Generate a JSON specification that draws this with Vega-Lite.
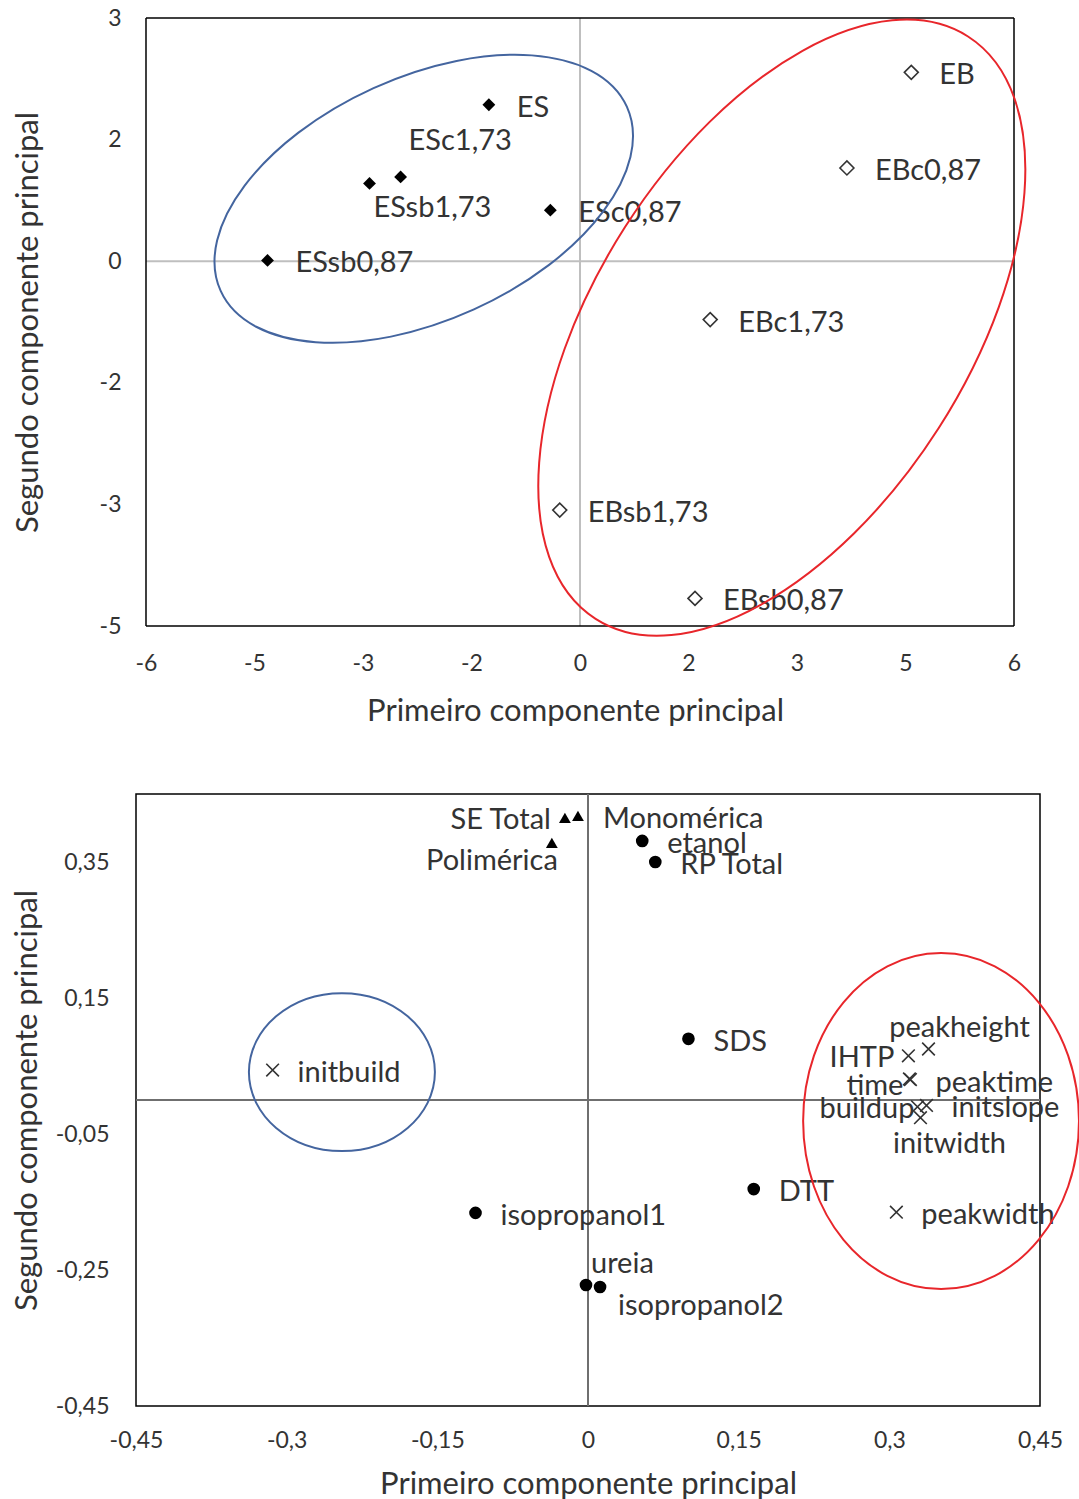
{
  "$schema": "https://vega.github.io/schema/vega-lite/v6.json",
  "padding": {"left": 10, "top": 7, "right": 5, "bottom": 5},
  "spacing": 66,
  "config": {
    "font": "Lato",
    "view": {"stroke": "#000000", "strokeWidth": 1.5},
    "axis": {"grid": false, "ticks": false, "domain": false, "labelFont": "Lato", "labelFontSize": 23, "labelColor": "#333333", "labelFlush": false, "labelOverlap": false, "titleFont": "Lato", "titleFontSize": 31, "titleFontWeight": "normal", "titleColor": "#333333"}
  },
  "datasets": {
    "scores": [
      {"name": "ES", "group": "ES", "pc1": -1.26, "pc2": 1.93},
      {"name": "ESc1,73", "group": "ES", "pc1": -2.48, "pc2": 1.04},
      {"name": "ESsb1,73", "group": "ES", "pc1": -2.91, "pc2": 0.96},
      {"name": "ESc0,87", "group": "ES", "pc1": -0.41, "pc2": 0.63},
      {"name": "ESsb0,87", "group": "ES", "pc1": -4.32, "pc2": 0.01},
      {"name": "EB", "group": "EB", "pc1": 4.58, "pc2": 2.33},
      {"name": "EBc0,87", "group": "EB", "pc1": 3.69, "pc2": 1.15},
      {"name": "EBc1,73", "group": "EB", "pc1": 1.8, "pc2": -0.72},
      {"name": "EBsb1,73", "group": "EB", "pc1": -0.28, "pc2": -3.07},
      {"name": "EBsb0,87", "group": "EB", "pc1": 1.59, "pc2": -4.16}
    ],
    "scoreGroups": [
      {"name": "ES", "pc1": -2.16, "pc2": 0.77},
      {"name": "EB", "pc1": 2.79, "pc2": -0.82}
    ],
    "loadings": [
      {"name": "SE Total", "kind": "tri", "pc1": -0.023, "pc2": 0.415},
      {"name": "Monomérica", "kind": "tri", "pc1": -0.01, "pc2": 0.418},
      {"name": "Polimérica", "kind": "tri", "pc1": -0.036, "pc2": 0.378},
      {"name": "etanol", "kind": "dot", "pc1": 0.054, "pc2": 0.381},
      {"name": "RP Total", "kind": "dot", "pc1": 0.067, "pc2": 0.35},
      {"name": "SDS", "kind": "dot", "pc1": 0.1, "pc2": 0.09},
      {"name": "DTT", "kind": "dot", "pc1": 0.165, "pc2": -0.131},
      {"name": "isopropanol1", "kind": "dot", "pc1": -0.112, "pc2": -0.166},
      {"name": "ureia", "kind": "dot", "pc1": -0.002, "pc2": -0.272},
      {"name": "isopropanol2", "kind": "dot", "pc1": 0.012, "pc2": -0.275},
      {"name": "initbuild", "kind": "x", "pc1": -0.314, "pc2": 0.044},
      {"name": "peakheight", "kind": "x", "pc1": 0.339, "pc2": 0.075},
      {"name": "IHTP", "kind": "x", "pc1": 0.319, "pc2": 0.065},
      {"name": "time", "kind": "x", "pc1": 0.32, "pc2": 0.031},
      {"name": "peaktime", "kind": "x", "pc1": 0.321, "pc2": 0.03},
      {"name": "buildup", "kind": "x", "pc1": 0.328, "pc2": -0.01},
      {"name": "initslope", "kind": "x", "pc1": 0.337, "pc2": -0.008},
      {"name": "initwidth", "kind": "x", "pc1": 0.331, "pc2": -0.026},
      {"name": "peakwidth", "kind": "x", "pc1": 0.307, "pc2": -0.165}
    ],
    "loadingGroups": [
      {"name": "initbuild", "pc1": -0.245, "pc2": 0.041},
      {"name": "cluster", "pc1": 0.3515, "pc2": -0.031}
    ]
  },
  "vconcat": [
    {
      "width": 878,
      "height": 608,
      "view": {"stroke": null},
      "layer": [
        {
          "data": {"name": "scores"},
          "mark": {"type": "point", "opacity": 0},
          "encoding": {
            "x": {"field": "pc1", "type": "quantitative", "title": "Primeiro componente principal", "scale": {"domain": [-6.1382, 6], "nice": false, "zero": false}, "axis": {"values": [-6, -4.5, -3, -1.5, 0, 1.5, 3, 4.5, 6], "labelExpr": "(datum.value < 0 ? '-' : '') + format(abs(datum.value), '.0f')", "labelPadding": 26, "titlePadding": 21}},
            "y": {"field": "pc2", "type": "quantitative", "title": "Segundo componente principal", "scale": {"domain": [-4.5, 3], "nice": false, "zero": false}, "axis": {"values": [-4.5, -3, -1.5, 0, 1.5, 3], "labelExpr": "(datum.value < 0 ? '-' : '') + format(abs(datum.value), '.0f')", "labelPadding": 15, "titlePadding": 55}}
          }
        },
        {
          "data": {"values": [{}]},
          "mark": {"type": "rule", "color": "#bfbfbf", "strokeWidth": 2},
          "encoding": {"x": {"datum": 0, "type": "quantitative"}}
        },
        {
          "data": {"values": [{}]},
          "mark": {"type": "rule", "color": "#bfbfbf", "strokeWidth": 2},
          "encoding": {"y": {"datum": 0, "type": "quantitative"}, "x": {"datum": -6, "type": "quantitative"}, "x2": {"datum": 6}}
        },
        {
          "data": {"values": [{}]},
          "mark": {"type": "rule", "color": "#000000", "strokeWidth": 1.5},
          "encoding": {"x": {"datum": -6, "type": "quantitative"}}
        },
        {
          "data": {"values": [{}]},
          "mark": {"type": "rule", "color": "#000000", "strokeWidth": 1.5},
          "encoding": {"x": {"datum": 6, "type": "quantitative"}}
        },
        {
          "data": {"values": [{}]},
          "mark": {"type": "rule", "color": "#000000", "strokeWidth": 1.5},
          "encoding": {"y": {"datum": 3, "type": "quantitative"}, "x": {"datum": -6, "type": "quantitative"}, "x2": {"datum": 6}}
        },
        {
          "data": {"values": [{}]},
          "mark": {"type": "rule", "color": "#000000", "strokeWidth": 1.5},
          "encoding": {"y": {"datum": -4.5, "type": "quantitative"}, "x": {"datum": -6, "type": "quantitative"}, "x2": {"datum": 6}}
        },
        {
          "data": {"name": "scores"},
          "transform": [{"filter": "datum.group == 'ES'"}],
          "mark": {"type": "point", "shape": "diamond", "filled": true, "color": "#000000", "size": 165, "opacity": 1},
          "encoding": {
            "x": {"field": "pc1", "type": "quantitative", "title": "Primeiro componente principal"},
            "y": {"field": "pc2", "type": "quantitative", "title": "Segundo componente principal"}
          }
        },
        {
          "data": {"name": "scores"},
          "transform": [{"filter": "datum.group == 'EB'"}],
          "mark": {"type": "point", "shape": "diamond", "filled": false, "fill": "#ffffff", "stroke": "#333333", "strokeWidth": 1.6, "size": 195, "opacity": 1},
          "encoding": {
            "x": {"field": "pc1", "type": "quantitative", "title": "Primeiro componente principal"},
            "y": {"field": "pc2", "type": "quantitative", "title": "Segundo componente principal"}
          }
        },
        {
          "data": {"name": "scores"},
          "transform": [{"filter": "datum.name != 'ESc1,73' && datum.name != 'ESsb1,73'"}],
          "mark": {"type": "text", "align": "left", "baseline": "middle", "dx": 28, "dy": 3, "fontSize": 29, "font": "Lato", "color": "#333333"},
          "encoding": {
            "x": {"field": "pc1", "type": "quantitative", "title": "Primeiro componente principal"},
            "y": {"field": "pc2", "type": "quantitative", "title": "Segundo componente principal"},
            "text": {"field": "name"}
          }
        },
        {
          "data": {"name": "scores"},
          "transform": [{"filter": "datum.name == 'ESc1,73'"}],
          "mark": {"type": "text", "align": "left", "baseline": "middle", "dx": 8, "dy": -36, "fontSize": 29, "font": "Lato", "color": "#333333"},
          "encoding": {
            "x": {"field": "pc1", "type": "quantitative", "title": "Primeiro componente principal"},
            "y": {"field": "pc2", "type": "quantitative", "title": "Segundo componente principal"},
            "text": {"field": "name"}
          }
        },
        {
          "data": {"name": "scores"},
          "transform": [{"filter": "datum.name == 'ESsb1,73'"}],
          "mark": {"type": "text", "align": "left", "baseline": "middle", "dx": 4, "dy": 25, "fontSize": 29, "font": "Lato", "color": "#333333"},
          "encoding": {
            "x": {"field": "pc1", "type": "quantitative", "title": "Primeiro componente principal"},
            "y": {"field": "pc2", "type": "quantitative", "title": "Segundo componente principal"},
            "text": {"field": "name"}
          }
        },
        {
          "data": {"name": "scoreGroups"},
          "transform": [{"filter": "datum.name == 'ES'"}],
          "mark": {"type": "point", "shape": "M 1 0 C 1 0.301 0.5523 0.545 0 0.545 C -0.5523 0.545 -1 0.301 -1 0 C -1 -0.301 -0.5523 -0.545 0 -0.545 C 0.5523 -0.545 1 -0.301 1 0 Z", "size": 198916, "angle": -24.4, "filled": false, "stroke": "#44659f", "strokeWidth": 2, "opacity": 1},
          "encoding": {
            "x": {"field": "pc1", "type": "quantitative", "title": "Primeiro componente principal"},
            "y": {"field": "pc2", "type": "quantitative", "title": "Segundo componente principal"}
          }
        },
        {
          "data": {"name": "scoreGroups"},
          "transform": [{"filter": "datum.name == 'EB'"}],
          "mark": {"type": "point", "shape": "M 1 0 C 1 0.2977 0.5523 0.539 0 0.539 C -0.5523 0.539 -1 0.2977 -1 0 C -1 -0.2977 -0.5523 -0.539 0 -0.539 C 0.5523 -0.539 1 -0.2977 1 0 Z", "size": 477757, "angle": -57.4, "filled": false, "stroke": "#e8262b", "strokeWidth": 2, "opacity": 1},
          "encoding": {
            "x": {"field": "pc1", "type": "quantitative", "title": "Primeiro componente principal"},
            "y": {"field": "pc2", "type": "quantitative", "title": "Segundo componente principal"}
          }
        }
      ]
    },
    {
      "width": 904,
      "height": 612,
      "layer": [
        {
          "data": {"name": "loadings"},
          "mark": {"type": "point", "opacity": 0},
          "encoding": {
            "x": {"field": "pc1", "type": "quantitative", "title": "Primeiro componente principal", "scale": {"domain": [-0.45, 0.45], "nice": false, "zero": false}, "axis": {"values": [-0.45, -0.3, -0.15, 0, 0.15, 0.3, 0.45], "labelExpr": "(datum.value < 0 ? '-' : '') + replace(format(abs(datum.value), '.2~f'), '.', ',')", "labelPadding": 23, "titlePadding": 17}},
            "y": {"field": "pc2", "type": "quantitative", "title": "Segundo componente principal", "scale": {"domain": [-0.45, 0.45], "nice": false, "zero": false}, "axis": {"values": [-0.45, -0.25, -0.05, 0.15, 0.35], "labelExpr": "(datum.value < 0 ? '-' : '') + replace(format(abs(datum.value), '.2~f'), '.', ',')", "labelPadding": 27, "titlePadding": 12}}
          }
        },
        {
          "data": {"values": [{}]},
          "mark": {"type": "rule", "color": "#6f6f6f", "strokeWidth": 2},
          "encoding": {"x": {"datum": 0, "type": "quantitative"}}
        },
        {
          "data": {"values": [{}]},
          "mark": {"type": "rule", "color": "#6f6f6f", "strokeWidth": 2},
          "encoding": {"y": {"datum": 0, "type": "quantitative"}}
        },
        {
          "data": {"name": "loadings"},
          "transform": [{"filter": "datum.kind == 'tri'"}],
          "mark": {"type": "point", "shape": "triangle-up", "filled": true, "color": "#000000", "size": 140, "opacity": 1},
          "encoding": {
            "x": {"field": "pc1", "type": "quantitative", "title": "Primeiro componente principal"},
            "y": {"field": "pc2", "type": "quantitative", "title": "Segundo componente principal"}
          }
        },
        {
          "data": {"name": "loadings"},
          "transform": [{"filter": "datum.kind == 'dot'"}],
          "mark": {"type": "point", "shape": "circle", "filled": true, "color": "#000000", "size": 160, "opacity": 1},
          "encoding": {
            "x": {"field": "pc1", "type": "quantitative", "title": "Primeiro componente principal"},
            "y": {"field": "pc2", "type": "quantitative", "title": "Segundo componente principal"}
          }
        },
        {
          "data": {"name": "loadings"},
          "transform": [{"filter": "datum.kind == 'x'"}],
          "mark": {"type": "point", "shape": "M -1 -1 L 1 1 M -1 1 L 1 -1", "filled": false, "stroke": "#333333", "strokeWidth": 1.6, "size": 160, "opacity": 1},
          "encoding": {
            "x": {"field": "pc1", "type": "quantitative", "title": "Primeiro componente principal"},
            "y": {"field": "pc2", "type": "quantitative", "title": "Segundo componente principal"}
          }
        },
        {
          "data": {"name": "loadings"},
          "transform": [{"filter": {"field": "name", "oneOf": ["Monomérica", "etanol", "RP Total", "SDS", "DTT", "isopropanol1", "initbuild", "peakwidth", "peaktime", "initslope"]}}],
          "mark": {"type": "text", "align": "left", "baseline": "middle", "dx": 25, "dy": 3, "fontSize": 29, "font": "Lato", "color": "#333333"},
          "encoding": {
            "x": {"field": "pc1", "type": "quantitative", "title": "Primeiro componente principal"},
            "y": {"field": "pc2", "type": "quantitative", "title": "Segundo componente principal"},
            "text": {"field": "name"}
          }
        },
        {
          "data": {"name": "loadings"},
          "transform": [{"filter": {"field": "name", "oneOf": ["SE Total", "IHTP"]}}],
          "mark": {"type": "text", "align": "right", "baseline": "middle", "dx": -14, "dy": 2, "fontSize": 29, "font": "Lato", "color": "#333333"},
          "encoding": {
            "x": {"field": "pc1", "type": "quantitative", "title": "Primeiro componente principal"},
            "y": {"field": "pc2", "type": "quantitative", "title": "Segundo componente principal"},
            "text": {"field": "name"}
          }
        },
        {
          "data": {"name": "loadings"},
          "transform": [{"filter": "datum.name == 'time'"}],
          "mark": {"type": "text", "align": "right", "baseline": "middle", "dx": -6, "dy": 7, "fontSize": 29, "font": "Lato", "color": "#333333"},
          "encoding": {
            "x": {"field": "pc1", "type": "quantitative", "title": "Primeiro componente principal"},
            "y": {"field": "pc2", "type": "quantitative", "title": "Segundo componente principal"},
            "text": {"field": "name"}
          }
        },
        {
          "data": {"name": "loadings"},
          "transform": [{"filter": "datum.name == 'buildup'"}],
          "mark": {"type": "text", "align": "right", "baseline": "middle", "dx": -3, "dy": 2, "fontSize": 29, "font": "Lato", "color": "#333333"},
          "encoding": {
            "x": {"field": "pc1", "type": "quantitative", "title": "Primeiro componente principal"},
            "y": {"field": "pc2", "type": "quantitative", "title": "Segundo componente principal"},
            "text": {"field": "name"}
          }
        },
        {
          "data": {"name": "loadings"},
          "transform": [{"filter": "datum.name == 'peakheight'"}],
          "mark": {"type": "text", "align": "center", "baseline": "middle", "dx": 31, "dy": -21, "fontSize": 29, "font": "Lato", "color": "#333333"},
          "encoding": {
            "x": {"field": "pc1", "type": "quantitative", "title": "Primeiro componente principal"},
            "y": {"field": "pc2", "type": "quantitative", "title": "Segundo componente principal"},
            "text": {"field": "name"}
          }
        },
        {
          "data": {"name": "loadings"},
          "transform": [{"filter": "datum.name == 'Polimérica'"}],
          "mark": {"type": "text", "align": "right", "baseline": "middle", "dx": 6, "dy": 18, "fontSize": 29, "font": "Lato", "color": "#333333"},
          "encoding": {
            "x": {"field": "pc1", "type": "quantitative", "title": "Primeiro componente principal"},
            "y": {"field": "pc2", "type": "quantitative", "title": "Segundo componente principal"},
            "text": {"field": "name"}
          }
        },
        {
          "data": {"name": "loadings"},
          "transform": [{"filter": "datum.name == 'initwidth'"}],
          "mark": {"type": "text", "align": "center", "baseline": "middle", "dx": 29, "dy": 26, "fontSize": 29, "font": "Lato", "color": "#333333"},
          "encoding": {
            "x": {"field": "pc1", "type": "quantitative", "title": "Primeiro componente principal"},
            "y": {"field": "pc2", "type": "quantitative", "title": "Segundo componente principal"},
            "text": {"field": "name"}
          }
        },
        {
          "data": {"name": "loadings"},
          "transform": [{"filter": "datum.name == 'isopropanol2'"}],
          "mark": {"type": "text", "align": "left", "baseline": "middle", "dx": 18, "dy": 19, "fontSize": 29, "font": "Lato", "color": "#333333"},
          "encoding": {
            "x": {"field": "pc1", "type": "quantitative", "title": "Primeiro componente principal"},
            "y": {"field": "pc2", "type": "quantitative", "title": "Segundo componente principal"},
            "text": {"field": "name"}
          }
        },
        {
          "data": {"name": "loadings"},
          "transform": [{"filter": "datum.name == 'ureia'"}],
          "mark": {"type": "text", "align": "left", "baseline": "middle", "dx": 5, "dy": -21, "fontSize": 29, "font": "Lato", "color": "#333333"},
          "encoding": {
            "x": {"field": "pc1", "type": "quantitative", "title": "Primeiro componente principal"},
            "y": {"field": "pc2", "type": "quantitative", "title": "Segundo componente principal"},
            "text": {"field": "name"}
          }
        },
        {
          "data": {"name": "loadingGroups"},
          "transform": [{"filter": "datum.name == 'initbuild'"}],
          "mark": {"type": "point", "shape": "M 1 0 C 1 0.469 0.5523 0.849 0 0.849 C -0.5523 0.849 -1 0.469 -1 0 C -1 -0.469 -0.5523 -0.849 0 -0.849 C 0.5523 -0.849 1 -0.469 1 0 Z", "size": 34596, "filled": false, "stroke": "#44659f", "strokeWidth": 2, "opacity": 1},
          "encoding": {
            "x": {"field": "pc1", "type": "quantitative", "title": "Primeiro componente principal"},
            "y": {"field": "pc2", "type": "quantitative", "title": "Segundo componente principal"}
          }
        },
        {
          "data": {"name": "loadingGroups"},
          "transform": [{"filter": "datum.name == 'cluster'"}],
          "mark": {"type": "point", "shape": "M 0.821 0 C 0.821 0.5523 0.4536 1 0 1 C -0.4536 1 -0.821 0.5523 -0.821 0 C -0.821 -0.5523 -0.4536 -1 0 -1 C 0.4536 -1 0.821 -0.5523 0.821 0 Z", "size": 112896, "filled": false, "stroke": "#e8262b", "strokeWidth": 2, "opacity": 1},
          "encoding": {
            "x": {"field": "pc1", "type": "quantitative", "title": "Primeiro componente principal"},
            "y": {"field": "pc2", "type": "quantitative", "title": "Segundo componente principal"}
          }
        }
      ]
    }
  ]
}
